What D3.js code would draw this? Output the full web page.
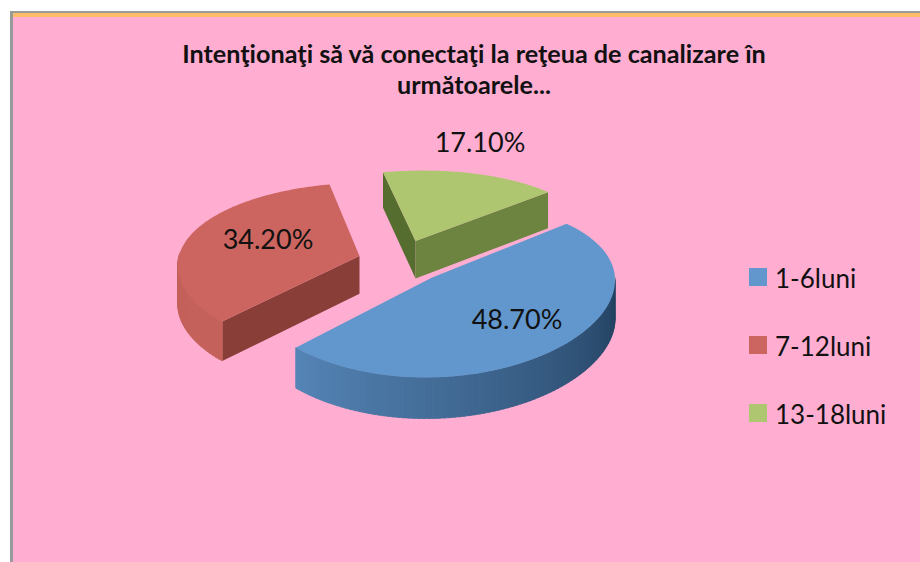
<!DOCTYPE html>
<html><head><meta charset="utf-8">
<script src="https://d3js.org/d3.v7.min.js"></script>
<style>html,body{margin:0;padding:0;background:#fff}svg{display:block}text{font-family:Lato,"Open Sans",sans-serif;fill:#111}</style>
</head><body><svg id="c" width="920" height="562"></svg>
<script>
const titleLines = ["Intenţionaţi să vă conectaţi la reţeua de canalizare în", "următoarele..."];
const categories = ["1-6luni", "7-12luni", "13-18luni"];
const values = [48.7, 34.2, 17.1];
const valueLabels = ["48.70%", "34.20%", "17.10%"];
const topColors = ["#6297cd", "#cc655f", "#aec670"];
const arcWallLight = ["#5686b8", "#c4625b", "#8aa350"];
const arcWallDark = ["#223f5e", "#bd5a53", "#6d8540"];
const startWallColors = ["#2f5275", "#893e38", "#566d30"];
const endWallColors = ["#2f5275", "#893e38", "#6c8440"];

const svg = d3.select("#c");
const layout = {cx:401, cy:259.5, R:181, Rv:83, perspX:0.06, perspY:0.12, shear:-8, explode:0.24, depth:38, startDeg:48};
const explodeScaleX = [1.05, 1, 1];
const explodeScaleY = [1.25, 0.7, 1];
const toRad = d => d * Math.PI / 180;

const pie = d3.pie().sort(null).startAngle(toRad(layout.startDeg)).endAngle(toRad(layout.startDeg + 360));
const arcs = pie(values);
const color = d3.scaleOrdinal().domain(categories).range(topColors);

function project(a, r, off, z) {
  const u = off[0] + r * Math.sin(a), v = off[1] - r * Math.cos(a);
  const wx = 1 / (1 - layout.perspX * v), wy = 1 / (1 - layout.perspY * v);
  return [layout.cx + layout.R * u * wx + layout.shear * v, layout.cy + layout.Rv * v * wy + z * layout.depth * wx];
}
const line = d3.line();

svg.append("rect").attr("x",10).attr("y",11).attr("width",910).attr("height",551).attr("fill","#9a9a9a");
svg.append("rect").attr("x",13).attr("y",13).attr("width",907).attr("height",549).attr("fill","#ffadd1");
svg.append("rect").attr("x",13).attr("y",13).attr("width",907).attr("height",4).attr("fill","#fdbd66");

titleLines.forEach((t,i) => svg.append("text").attr("x",474).attr("y",63+i*31)
  .attr("text-anchor","middle").attr("font-size",25.2).attr("font-weight",700).attr("fill","#111").text(t));

const order = [2,1,0];
order.forEach(i => {
  const d = arcs[i];
  const mid = (d.startAngle + d.endAngle) / 2;
  const off = [layout.explode * explodeScaleX[i] * Math.sin(mid), -layout.explode * explodeScaleY[i] * Math.cos(mid)];
  const g = svg.append("g");
  const wall = (a, col) => {
    const A = project(a,0,off,0), B = project(a,1,off,0), C = project(a,1,off,1), D = project(a,0,off,1);
    g.append("path").attr("d", line([A,B,C,D]) + "Z").attr("fill", col);
  };
  if (Math.sin(d.startAngle) < 0) wall(d.startAngle, startWallColors[i]);
  if (Math.sin(d.endAngle) > 0) wall(d.endAngle, endWallColors[i]);
  // outer rim wall, shaded like the original gradient
  const steps = d3.range(d.startAngle, d.endAngle, toRad(1.5));
  const shade = d3.scaleLinear().domain([toRad(90), toRad(225)]).range([1,0]).clamp(true);
  const ramp = d3.interpolateRgb(arcWallLight[i], arcWallDark[i]);
  steps.forEach(a => {
    if (Math.cos(a) >= 0.02) return;
    const b = Math.min(a + toRad(2.5), d.endAngle);
    const col = ramp(shade(a));
    g.append("path").attr("d", line([project(a,1,off,0),project(b,1,off,0),project(b,1,off,1),project(a,1,off,1)])+"Z")
      .attr("fill", col).attr("stroke", col).attr("stroke-width",0.6);
  });
  const rim = d3.range(d.startAngle, d.endAngle, toRad(1)).concat([d.endAngle]).map(a => project(a,1,off,0));
  g.append("path").attr("d", line([project(0,0,off,0)].concat(rim)) + "Z").attr("fill", color(categories[i]));
});

// data labels
const labelAt = [[517,319],[268,239],[480,142]];
valueLabels.forEach((t,i) => svg.append("text").attr("x",labelAt[i][0]).attr("y",labelAt[i][1]+10)
  .attr("text-anchor","middle").attr("font-size",27).text(t));

// legend
const legendY = d3.scalePoint().domain(categories).range([277,413]);
categories.forEach((c,i) => {
  svg.append("rect").attr("x",749).attr("y",legendY(c)-9).attr("width",18).attr("height",18).attr("fill",color(c));
  svg.append("text").attr("x",775).attr("y",legendY(c)+11).attr("font-size",26).text(c);
});
</script></body></html>
